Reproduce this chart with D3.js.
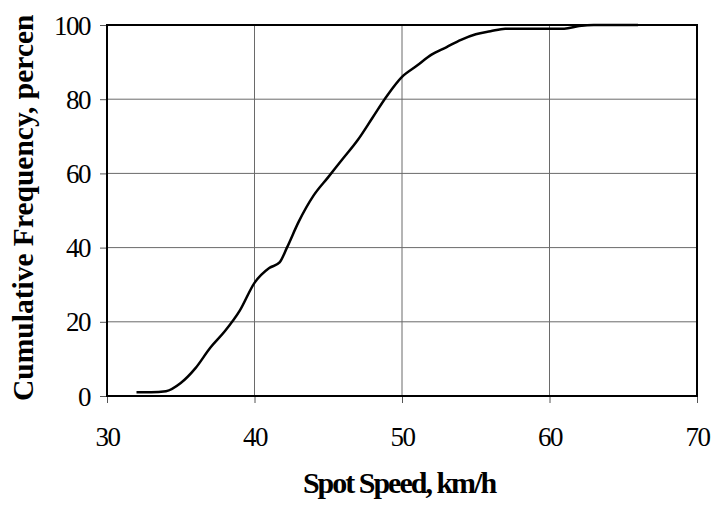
<!DOCTYPE html>
<html lang="en">
<head>
<meta charset="utf-8">
<title>Cumulative Frequency of Spot Speed</title>
<script src="https://cdn.jsdelivr.net/npm/d3@7"></script>
<style>
  html, body { margin: 0; padding: 0; background: #fff; }
  svg { display: block; }
  .tick text { font-family: "Liberation Serif", "DejaVu Serif", serif; font-size: 27px; fill: #000; letter-spacing: -1.5px; }
  .title { font-family: "Liberation Serif", "DejaVu Serif", serif; font-weight: bold; font-size: 30px; fill: #000; }
</style>
</head>
<body>
<svg id="chart" width="713" height="508"></svg>
<script>
// spot speed (km/h) and cumulative frequency (%)
var speeds = [32, 33, 34, 35, 36, 37, 38, 39, 40, 41, 41.7, 42.2, 43, 44, 45, 46, 47, 48, 49, 50,
              51, 52, 53, 54, 55, 56, 57, 58, 59, 60, 61, 62, 63, 66];
var cumFreq = [1, 1, 1.3, 3.5, 7.5, 13, 17.5, 23, 30.5, 34.5, 36, 40, 47, 54, 59, 64, 69, 75, 81, 86,
               89, 92, 94, 96, 97.5, 98.3, 99, 99, 99, 99, 99, 99.7, 100, 100];
var xTicks = [30, 40, 50, 60, 70];
var yTicks = [0, 20, 40, 60, 80, 100];

var data = speeds.map(function(s, i) { return {speed: s, freq: cumFreq[i]}; });

var svg = d3.select("#chart"),
    margin = {top: 25, right: 16, bottom: 112, left: 107},
    width = +svg.attr("width") - margin.left - margin.right,
    height = +svg.attr("height") - margin.top - margin.bottom,
    g = svg.append("g").attr("transform", "translate(" + margin.left + "," + margin.top + ")");

var x = d3.scaleLinear().domain([30, 70]).range([0, width]);
var y = d3.scaleLinear().domain([0, 100]).range([height, 0]);

// gridlines
g.append("g").selectAll("line.h").data(yTicks).enter().append("line")
    .attr("x1", 0).attr("x2", width)
    .attr("y1", function(d) { return y(d); }).attr("y2", function(d) { return y(d); })
    .style("stroke", "#6a6a6a").style("stroke-width", 1);
g.append("g").selectAll("line.v").data(xTicks).enter().append("line")
    .attr("y1", 0).attr("y2", height)
    .attr("x1", function(d) { return x(d); }).attr("x2", function(d) { return x(d); })
    .style("stroke", "#6a6a6a").style("stroke-width", 1);

// axes
var xAxis = g.append("g")
    .attr("transform", "translate(0," + height + ")")
    .call(d3.axisBottom(x).tickValues(xTicks).tickSize(7).tickPadding(24).tickSizeOuter(0));
var yAxis = g.append("g")
    .call(d3.axisLeft(y).tickValues(yTicks).tickSize(7).tickPadding(10).tickSizeOuter(0));
[xAxis, yAxis].forEach(function(a) {
  a.select(".domain").remove();
  a.selectAll(".tick line").style("stroke", "#555");
});
yAxis.selectAll(".tick text").attr("dy", "0.34em");

// frame
g.append("rect")
    .attr("width", width).attr("height", height)
    .style("fill", "none").style("stroke", "#000").style("stroke-width", 2);

// curve
var line = d3.line()
    .curve(d3.curveMonotoneX)
    .x(function(d) { return x(d.speed); })
    .y(function(d) { return y(d.freq); });

g.append("path")
    .attr("d", line(data))
    .style("fill", "none").style("stroke", "#000").style("stroke-width", 2.5);

// titles
svg.append("text")
    .attr("class", "title")
    .attr("x", 399).attr("y", 493)
    .style("text-anchor", "middle")
    .style("letter-spacing", "-2px")
    .text("Spot Speed, km/h");

// the source figure's label is truncated this way
svg.append("text")
    .attr("class", "title")
    .attr("transform", "translate(33,401) rotate(-90)")
    .style("text-anchor", "start")
    .style("font-size", "29.5px")
    .text("Cumulative Frequency, percen");
</script>
</body>
</html>
